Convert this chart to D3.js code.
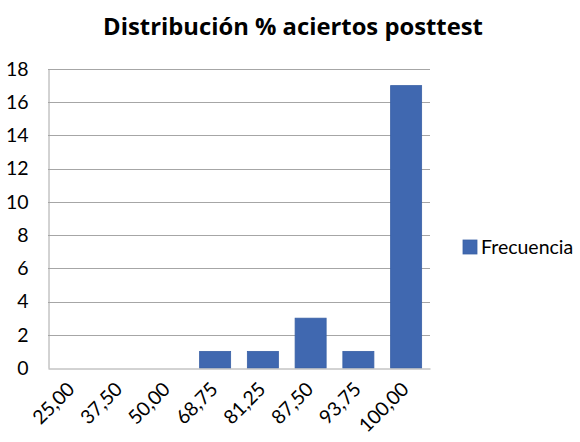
<!DOCTYPE html>
<html><head><meta charset="utf-8">
<script src="https://cdn.jsdelivr.net/npm/d3@7"></script>
<style>body{margin:0;background:#fff}svg{display:block}</style>
</head><body>
<svg id="c" width="580" height="442"></svg>
<script>
const categories = ["25,00","37,50","50,00","68,75","81,25","87,50","93,75","100,00"];
const frecuencia = [0,0,0,1,1,3,1,17];
const yTicks = [0,2,4,6,8,10,12,14,16,18];
const title = "Distribución % aciertos posttest";
const seriesName = "Frecuencia";

const svg = d3.select("#c");
const m = {l:48, r:150, t:69, b:74};
const W = 580, H = 442;
const x = d3.scaleBand().domain(categories).range([m.l, W-m.r]).paddingInner(0.35).paddingOuter(0.175);
const y = d3.scaleLinear().domain([0,18]).range([H-m.b, m.t]);
const font = "Lato, 'Open Sans', sans-serif";
const fs = 19.5;

// gridlines
svg.append("g").selectAll("line").data(yTicks.filter(d=>d>0)).join("line")
  .attr("x1", m.l).attr("x2", W-m.r).attr("y1", d=>Math.round(y(d))+0.5).attr("y2", d=>Math.round(y(d))+0.5)
  .attr("stroke", "#a6a6a6").attr("stroke-width", 1);

// y axis
const ya = svg.append("g").attr("transform", `translate(${m.l+0.5},0)`)
  .call(d3.axisLeft(y).tickValues(yTicks).tickSize(0).tickPadding(20));
ya.select(".domain").attr("stroke","#a6a6a6");
ya.selectAll("text").attr("font-family", font).attr("font-size", fs).attr("fill","#000");

// bars
svg.append("g").selectAll("rect").data(categories.map((c,i)=>({c, v:frecuencia[i]}))).join("rect")
  .attr("x", d=>x(d.c)).attr("width", x.bandwidth())
  .attr("y", d=>y(d.v)).attr("height", d=>y(0)-y(d.v))
  .attr("fill", "#4068b0").attr("stroke", "#3a61a6").attr("stroke-width", 0.8);

// x axis
const xa = svg.append("g").attr("transform", `translate(0,${Math.round(y(0))+0.5})`)
  .call(d3.axisBottom(x).tickSize(0).tickPadding(0));
xa.select(".domain").attr("stroke","#a6a6a6");
xa.selectAll("text").attr("font-family", font).attr("font-size", fs).attr("fill","#000")
  .attr("text-anchor","end").attr("dy", null)
  .attr("transform", "translate(4,22) rotate(-45)");

// title
const t = svg.append("text").attr("x", 293).attr("y", 35).attr("text-anchor","middle")
  .attr("font-family", "'Open Sans', sans-serif").attr("font-weight","bold").attr("font-size", 24)
  .attr("fill","#000").text(title);
const tw = t.node().getComputedTextLength();
t.attr("font-size", 24*380/tw);

// legend
const lg = svg.append("g");
lg.append("rect").attr("x", 463).attr("y", 240).attr("width", 14).attr("height", 14)
  .attr("fill", "#4068b0").attr("stroke", "#3a61a6").attr("stroke-width", 0.8);
const lt = lg.append("text").attr("x", 481).attr("y", 247).attr("dy","0.35em")
  .attr("font-family", font).attr("font-size", fs).attr("fill","#000").text(seriesName);
</script>
</body></html>
